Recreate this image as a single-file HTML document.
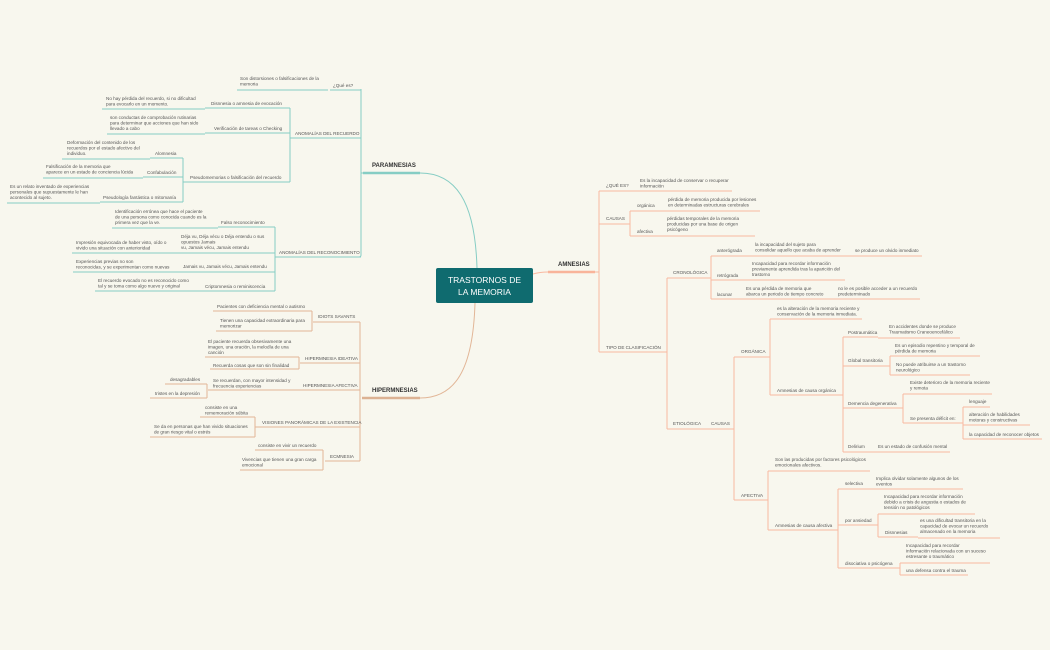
<!DOCTYPE html>
<html><head><meta charset="utf-8"><style>
html,body{margin:0;padding:0;background:#f8f7ee;}
svg{display:block}
text{font-family:"Liberation Sans",sans-serif;font-size:4.6px;fill:#555;}
.t{stroke:#86cdc4;stroke-width:1;fill:none}
.h{stroke:#e2b697;stroke-width:1;fill:none}
.a{stroke:#f9b9a0;stroke-width:1;fill:none}
.lbl{font-size:6px;fill:#333;font-weight:bold}
</style></head><body>
<svg width="1050" height="650" viewBox="0 0 1050 650" xmlns="http://www.w3.org/2000/svg">
<rect width="1050" height="650" fill="#f8f7ee"/>

<!-- CENTER -->
<path d="M420 173 C455 173 475 200 477 268" class="t" stroke-width="1"/>
<path d="M420 398 C455 398 473 370 475 303" class="h"/>
<path d="M533 274 C540 272 545 272 548 272" class="a"/>
<rect x="436" y="268" width="97" height="35" rx="2" fill="#0f6b6f"/>
<text x="484.5" y="283" text-anchor="middle" style="font-size:8.5px;fill:#fff">TRASTORNOS DE</text>
<text x="484.5" y="295" text-anchor="middle" style="font-size:8.5px;fill:#fff">LA MEMORIA</text>

<!-- PARAMNESIAS -->
<text x="372" y="167" class="lbl">PARAMNESIAS</text>
<line x1="363" y1="173" x2="420" y2="173" stroke="#86cdc4" stroke-width="2.5"/>
<path class="t" d="M361 89 V255 Q361 257 359 257 M361 173 H363"/>
<text x="333" y="87">¿Qué es?</text><line class="t" x1="330" y1="90" x2="361" y2="90"/>
<text x="240" y="80">Son distorsiones o falsificaciones de la<tspan x="240" dy="5.5">memoria</tspan></text><line class="t" x1="237" y1="90" x2="328" y2="90"/>

<text x="295" y="135">ANOMALÍAS DEL RECUERDO</text><line class="t" x1="290" y1="138" x2="361" y2="138"/>
<path class="t" d="M290 108 V182"/>
<text x="211" y="105">Disnnesia o amnesia de evocación</text><line class="t" x1="205" y1="108" x2="290" y2="108"/>
<text x="106" y="100">No hay pérdida del recuerdo, si no dificultad<tspan x="106" dy="5.5">para evocarlo en un momento.</tspan></text><line class="t" x1="102" y1="109" x2="205" y2="109"/>
<text x="214" y="130">Verificación de tareas o Checking</text><line class="t" x1="205" y1="133" x2="290" y2="133"/>
<text x="110" y="119">son conductas de comprobación rutinarias<tspan x="110" dy="5.5">para determinar que acciones que han sido</tspan><tspan x="110" dy="5.5">llevado a cabo</tspan></text><line class="t" x1="107" y1="134" x2="205" y2="134"/>
<text x="190" y="179">Pseudomemorias o falsificación del recuerdo</text><line class="t" x1="183" y1="182" x2="290" y2="182"/>
<path class="t" d="M183 158 V202"/>
<text x="155" y="155">Alomnesia</text><line class="t" x1="150" y1="158" x2="183" y2="158"/>
<text x="67" y="144">Deformación del contenido de los<tspan x="67" dy="5.5">recuerdos por el estado afectivo del</tspan><tspan x="67" dy="5.5">individuo.</tspan></text><line class="t" x1="62" y1="159" x2="150" y2="159"/>
<text x="147" y="174">Confabulación</text><line class="t" x1="143" y1="177" x2="183" y2="177"/>
<text x="46" y="168">Falsificación de la memoria que<tspan x="46" dy="5.5">aparece en un estado de conciencia lúcida</tspan></text><line class="t" x1="43" y1="178" x2="143" y2="178"/>
<text x="103" y="199">Pseudología fantástica o mitomanía</text><line class="t" x1="100" y1="202" x2="183" y2="202"/>
<text x="10" y="188">Es un relato inventado de experiencias<tspan x="10" dy="5.5">personales que supuestamente le han</tspan><tspan x="10" dy="5.5">acontecido al sujeto.</tspan></text><line class="t" x1="7" y1="203" x2="100" y2="203"/>

<text x="279" y="254">ANOMALÍAS DEL RECONOCIMIENTO</text><line class="t" x1="275" y1="257" x2="361" y2="257"/>
<path class="t" d="M275 227 V291"/>
<text x="221" y="224">Falso reconocimiento</text><line class="t" x1="218" y1="227" x2="275" y2="227"/>
<text x="115" y="213">Identificación errónea que hace el paciente<tspan x="115" dy="5.5">de una persona como conocida cuando es la</tspan><tspan x="115" dy="5.5">primera vez que la ve.</tspan></text><line class="t" x1="112" y1="228" x2="218" y2="228"/>
<text x="181" y="238">Déja vu, Déja vécu o Déja entendu o sus<tspan x="181" dy="5.5">opuestos Jamais</tspan><tspan x="181" dy="5.5">vu, Jamais vécu, Jamais entendu</tspan></text><line class="t" x1="178" y1="253" x2="275" y2="253"/>
<text x="76" y="244">Impresión equivocada de haber visto, oído o<tspan x="76" dy="5.5">vivido una situación con anterioridad</tspan></text><line class="t" x1="72" y1="253" x2="178" y2="253"/>
<text x="183" y="268">Jamais vu, Jamais vécu, Jamais entendu</text><line class="t" x1="180" y1="272" x2="275" y2="272"/>
<text x="76" y="263">Experiencias previas no son<tspan x="76" dy="5.5">reconocidas, y se experimentan como nuevas</tspan></text><line class="t" x1="73" y1="272" x2="180" y2="272"/>
<text x="205" y="288">Criptomnesia o reminiscencia</text><line class="t" x1="200" y1="291" x2="275" y2="291"/>
<text x="98" y="282">El recuerdo evocado no es reconocido como<tspan x="98" dy="5.5">tal y se toma como algo nuevo y original</tspan></text><line class="t" x1="95" y1="291" x2="200" y2="291"/>

<!-- HIPERMNESIAS -->
<text x="372" y="392" class="lbl">HIPERMNESIAS</text>
<line x1="362" y1="398" x2="420" y2="398" stroke="#dcb293" stroke-width="2.5"/>
<path class="h" d="M360 322 V461"/>
<text x="318" y="318">IDIOTS SAVANTS</text><line class="h" x1="313" y1="322" x2="360" y2="322"/>
<path class="h" d="M312 311 V331"/>
<text x="217" y="308">Pacientes con deficiencia mental o autismo</text><line class="h" x1="213" y1="311" x2="312" y2="311"/>
<text x="220" y="322">Tienen una capacidad extraordinaria para<tspan x="220" dy="5.5">memorizar</tspan></text><line class="h" x1="216" y1="331" x2="312" y2="331"/>
<text x="305" y="360">HIPERMNESIA IDEATIVA</text><line class="h" x1="300" y1="363" x2="360" y2="363"/>
<path class="h" d="M299 357 V369"/>
<text x="208" y="343">El paciente recuerda obsesivamente una<tspan x="208" dy="5.5">imagen, una oración, la melodía de una</tspan><tspan x="208" dy="5.5">canción</tspan></text><line class="h" x1="205" y1="357" x2="299" y2="357"/>
<text x="213" y="367">Recuerda cosas que son sin finalidad</text><line class="h" x1="210" y1="369" x2="299" y2="369"/>
<text x="303" y="387">HIPERMNESIA AFECTIVA</text><line class="h" x1="298" y1="390" x2="360" y2="390"/>
<text x="213" y="382">Se recuerdan, con mayor intensidad y<tspan x="213" dy="5.5">frecuencia experiencias</tspan></text><line class="h" x1="208" y1="390" x2="298" y2="390"/>
<path class="h" d="M207 384 V398"/>
<text x="170" y="381">desagradables</text><line class="h" x1="165" y1="384" x2="207" y2="384"/>
<text x="155" y="395">tristes en la depresión</text><line class="h" x1="150" y1="398" x2="207" y2="398"/>
<text x="262" y="424">VISIONES PANORÁMICAS DE LA EXISTENCIA</text><line class="h" x1="255" y1="427" x2="360" y2="427"/>
<path class="h" d="M255 417 V437"/>
<text x="205" y="409">consiste en una<tspan x="205" dy="5.5">rememoración súbita</tspan></text><line class="h" x1="200" y1="417" x2="255" y2="417"/>
<text x="154" y="428">Se da en personas que han vivido situaciones<tspan x="154" dy="5.5">de gran riesgo vital o estrés</tspan></text><line class="h" x1="150" y1="437" x2="255" y2="437"/>
<text x="330" y="458">ECMNESIA</text><line class="h" x1="325" y1="461" x2="360" y2="461"/>
<path class="h" d="M323 450 V470"/>
<text x="258" y="447">consiste en vivir un recuerdo</text><line class="h" x1="255" y1="450" x2="323" y2="450"/>
<text x="242" y="461">Vivencias que tienen una gran carga<tspan x="242" dy="5.5">emocional</tspan></text><line class="h" x1="240" y1="470" x2="323" y2="470"/>

<!-- AMNESIAS -->
<text x="558" y="266" class="lbl">AMNESIAS</text>
<line x1="548" y1="272" x2="595" y2="272" stroke="#f9b49a" stroke-width="2.5"/>
<path class="a" d="M595 272 H599 M599 191 V352"/>
<text x="606" y="187">¿QUÉ ES?</text><line class="a" x1="599" y1="191" x2="628" y2="191"/>
<text x="640" y="182">Es la incapacidad de conservar o recuperar<tspan x="640" dy="5.5">información</tspan></text><line class="a" x1="628" y1="191" x2="732" y2="191"/>
<text x="606" y="220">CAUSAS</text><line class="a" x1="599" y1="224" x2="630" y2="224"/>
<path class="a" d="M630 211 V236"/>
<text x="637" y="207">orgánica</text><line class="a" x1="630" y1="211" x2="665" y2="211"/>
<text x="668" y="201">pérdida de memoria producida por lesiones<tspan x="668" dy="5.5">en determinadas estructuras cerebrales</tspan></text><line class="a" x1="665" y1="211" x2="760" y2="211"/>
<text x="637" y="233">afectiva</text><line class="a" x1="630" y1="236" x2="665" y2="236"/>
<text x="667" y="220">pérdidas temporales de la memoria<tspan x="667" dy="5.5">producidas  por una base de origen</tspan><tspan x="667" dy="5.5">psicógeno</tspan></text><line class="a" x1="665" y1="236" x2="755" y2="236"/>

<text x="606" y="349">TIPO DE CLASIFICACIÓN</text><line class="a" x1="599" y1="352" x2="667" y2="352"/>
<path class="a" d="M667 278 V429"/>
<text x="673" y="274">CRONOLÓGICA</text><line class="a" x1="667" y1="278" x2="711" y2="278"/>
<path class="a" d="M711 256 V299"/>
<text x="717" y="252">anterógrada</text><line class="a" x1="711" y1="256" x2="752" y2="256"/>
<text x="755" y="246">la incapacidad del sujeto para<tspan x="755" dy="5.5">consolidar aquello que acaba de aprender</tspan></text><line class="a" x1="752" y1="256" x2="848" y2="256"/>
<text x="855" y="252">se produce un olvido inmediato</text><line class="a" x1="848" y1="256" x2="922" y2="256"/>
<text x="717" y="277">retrógrada</text><line class="a" x1="711" y1="280" x2="750" y2="280"/>
<text x="752" y="265">Incapacidad para recordar información<tspan x="752" dy="5.5">previamente aprendida tras la aparición del</tspan><tspan x="752" dy="5.5">trastorno</tspan></text><line class="a" x1="750" y1="280" x2="845" y2="280"/>
<text x="717" y="296">lacunar</text><line class="a" x1="711" y1="299" x2="745" y2="299"/>
<text x="746" y="290">Es una pérdida de memoria que<tspan x="746" dy="5.5">abarca un periodo de tiempo concreto</tspan></text><line class="a" x1="745" y1="299" x2="835" y2="299"/>
<text x="838" y="290">no le es posible acceder a un recuerdo<tspan x="838" dy="5.5">predeterminado</tspan></text><line class="a" x1="835" y1="299" x2="920" y2="299"/>

<text x="673" y="425">ETIOLÓGICA</text><line class="a" x1="667" y1="429" x2="705" y2="429"/>
<text x="711" y="425">CAUSAS</text><line class="a" x1="705" y1="429" x2="734" y2="429"/>
<path class="a" d="M734 357 V500"/>
<text x="741" y="353">ORGÁNICA</text><line class="a" x1="734" y1="357" x2="770" y2="357"/>
<path class="a" d="M770 319 V395"/>
<text x="777" y="310">es la alteración de la memoria reciente y<tspan x="777" dy="5.5">conservación de la memoria inmediata.</tspan></text><line class="a" x1="770" y1="319" x2="862" y2="319"/>
<text x="777" y="392">Amnesias de causa orgánica</text><line class="a" x1="770" y1="395" x2="843" y2="395"/>
<path class="a" d="M843 337 V452"/>
<text x="848" y="334">Postraumática</text><line class="a" x1="843" y1="337" x2="878" y2="337"/>
<text x="889" y="328">En accidentes donde se produce<tspan x="889" dy="5.5">Traumatismo Craneoencefálico</tspan></text><line class="a" x1="878" y1="338" x2="960" y2="338"/>
<text x="848" y="362">Global transitoria</text><line class="a" x1="843" y1="366" x2="890" y2="366"/>
<path class="a" d="M890 356 V375"/>
<text x="895" y="347">Es un episodio repentino y temporal de<tspan x="895" dy="5.5">pérdida de memoria</tspan></text><line class="a" x1="890" y1="356" x2="980" y2="356"/>
<text x="896" y="366">No puede atribuirse a un trastorno<tspan x="896" dy="5.5">neurológico</tspan></text><line class="a" x1="890" y1="375" x2="970" y2="375"/>
<text x="848" y="405">Demencia degenerativa</text><line class="a" x1="843" y1="408" x2="903" y2="408"/>
<path class="a" d="M903 394 V423"/>
<text x="910" y="384">Existe deterioro de la memoria reciente<tspan x="910" dy="5.5">y remota</tspan></text><line class="a" x1="903" y1="394" x2="992" y2="394"/>
<text x="910" y="420">Se presenta déficit en:</text><line class="a" x1="903" y1="423" x2="963" y2="423"/>
<path class="a" d="M963 407 V439"/>
<text x="969" y="403">lenguaje</text><line class="a" x1="963" y1="407" x2="990" y2="407"/>
<text x="969" y="416">alteración de habilidades<tspan x="969" dy="5.5">motoras y constructivas</tspan></text><line class="a" x1="963" y1="425" x2="1030" y2="425"/>
<text x="969" y="436">la capacidad de reconocer objetos</text><line class="a" x1="963" y1="439" x2="1042" y2="439"/>
<text x="848" y="448">Delirium</text><line class="a" x1="843" y1="452" x2="875" y2="452"/>
<text x="878" y="448">Es un estado de confusión mental</text><line class="a" x1="875" y1="452" x2="950" y2="452"/>

<text x="741" y="497">AFECTIVA</text><line class="a" x1="734" y1="500" x2="768" y2="500"/>
<path class="a" d="M768 471 V530"/>
<text x="775" y="461">Son las producidas por factores psicológicos<tspan x="775" dy="5.5">emocionales afectivos.</tspan></text><line class="a" x1="768" y1="471" x2="870" y2="471"/>
<text x="775" y="527">Amnesias de causa afectiva</text><line class="a" x1="768" y1="530" x2="838" y2="530"/>
<path class="a" d="M838 489 V568"/>
<text x="845" y="485">selectiva</text><line class="a" x1="838" y1="489" x2="870" y2="489"/>
<text x="876" y="480">Implica olvidar solamente algunos de los<tspan x="876" dy="5.5">eventos</tspan></text><line class="a" x1="870" y1="489" x2="963" y2="489"/>
<text x="845" y="522">por ansiedad</text><line class="a" x1="838" y1="525" x2="878" y2="525"/>
<path class="a" d="M878 514 V537"/>
<text x="884" y="498">Incapacidad para recordar información<tspan x="884" dy="5.5">debido a crisis de angustia o estados de</tspan><tspan x="884" dy="5.5">tensión no patológicos</tspan></text><line class="a" x1="878" y1="514" x2="975" y2="514"/>
<text x="885" y="534">Disnnesias</text><line class="a" x1="878" y1="537" x2="918" y2="537"/>
<text x="920" y="522">es una dificultad transitoria en la<tspan x="920" dy="5.5">capacidad de evocar un recuerdo</tspan><tspan x="920" dy="5.5">almacenado en la memoria</tspan></text><line class="a" x1="918" y1="538" x2="1000" y2="538"/>
<text x="845" y="565">disociativa o psicógena</text><line class="a" x1="838" y1="568" x2="900" y2="568"/>
<path class="a" d="M900 563 V575"/>
<text x="906" y="547">Incapacidad para recordar<tspan x="906" dy="5.5">información relacionada con un suceso</tspan><tspan x="906" dy="5.5">estresante o traumático</tspan></text><line class="a" x1="900" y1="563" x2="990" y2="563"/>
<text x="906" y="572">una defensa contra el trauma</text><line class="a" x1="900" y1="575" x2="968" y2="575"/>
</svg>
</body></html>
